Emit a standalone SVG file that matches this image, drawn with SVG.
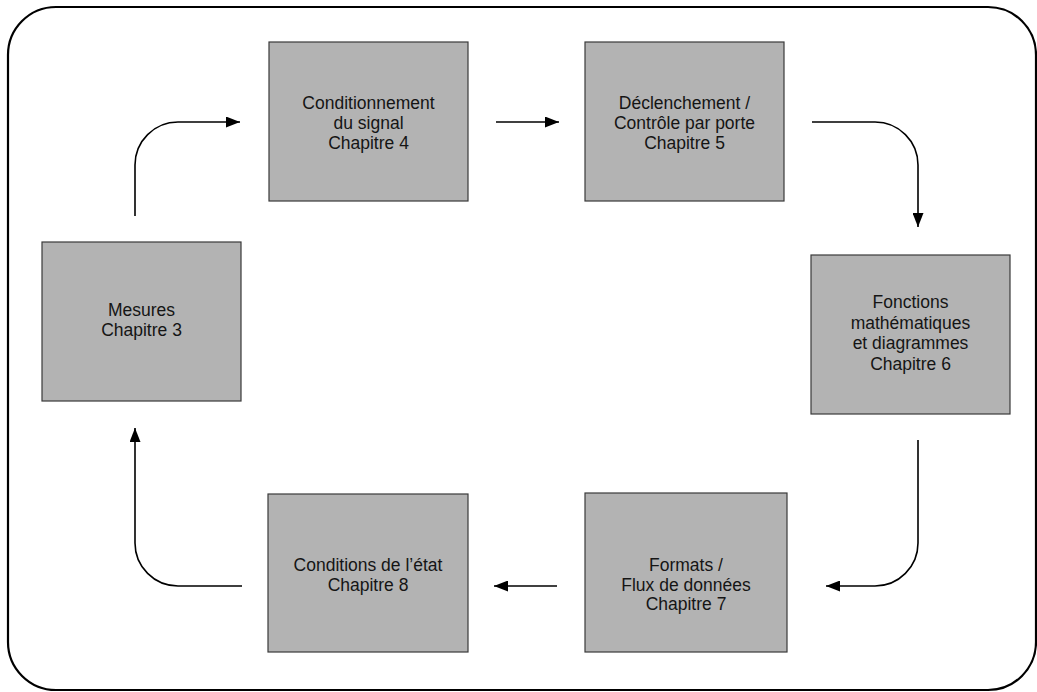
<svg xmlns="http://www.w3.org/2000/svg" width="1037" height="692" viewBox="0 0 1037 692">
  <style>
    .frame { fill: #ffffff; stroke: #000000; stroke-width: 2.2; }
    .box { fill: #b3b3b3; stroke: #3a3a3a; stroke-width: 1.2; }
    .label { font-family: "Liberation Sans", Arial, sans-serif; font-size: 17.5px; fill: #151515; text-anchor: middle; }
    .link { fill: none; stroke: #000000; stroke-width: 1.6; }
  </style>
  <defs>
    <marker id="arrow" viewBox="0 0 14 11" refX="14" refY="5.5" markerWidth="14" markerHeight="11" markerUnits="userSpaceOnUse" orient="auto">
      <path d="M0,0 L14,5.5 L0,11 Z" fill="#000000"/>
    </marker>
  </defs>

  <rect width="1037" height="692" fill="#ffffff"/>
  <!-- outer rounded frame -->
  <rect class="frame" x="8" y="7" width="1028" height="683" rx="48" ry="48"/>

  <!-- workflow steps -->
  <g id="node-conditionnement">
    <rect class="box" x="269" y="42" width="199" height="159"/>
    <text class="label" x="368.5" y="109">Conditionnement</text>
    <text class="label" x="368.5" y="129">du signal</text>
    <text class="label" x="368.5" y="149">Chapitre 4</text>
  </g>
  <g id="node-declenchement">
    <rect class="box" x="585" y="42" width="199" height="159"/>
    <text class="label" x="684.5" y="109">Déclenchement /</text>
    <text class="label" x="684.5" y="129">Contrôle par porte</text>
    <text class="label" x="684.5" y="149">Chapitre 5</text>
  </g>
  <g id="node-fonctions">
    <rect class="box" x="811" y="255" width="199" height="159"/>
    <text class="label" x="910.5" y="308">Fonctions</text>
    <text class="label" x="910.5" y="328.5">mathématiques</text>
    <text class="label" x="910.5" y="349">et diagrammes</text>
    <text class="label" x="910.5" y="369.5">Chapitre 6</text>
  </g>
  <g id="node-formats">
    <rect class="box" x="585" y="493" width="202" height="159"/>
    <text class="label" x="686" y="571">Formats /</text>
    <text class="label" x="686" y="591">Flux de données</text>
    <text class="label" x="686" y="610">Chapitre 7</text>
  </g>
  <g id="node-conditions">
    <rect class="box" x="268" y="494" width="200" height="158"/>
    <text class="label" x="368" y="571">Conditions de l’état</text>
    <text class="label" x="368" y="591">Chapitre 8</text>
  </g>
  <g id="node-mesures">
    <rect class="box" x="42" y="242" width="199" height="159"/>
    <text class="label" x="141.5" y="316">Mesures</text>
    <text class="label" x="141.5" y="336">Chapitre 3</text>
  </g>

  <!-- connectors -->
  <g id="connectors">
    <path class="link" marker-end="url(#arrow)" d="M135,216 V165 A43,43 0 0 1 178,122 H240"/>
    <path class="link" marker-end="url(#arrow)" d="M496,122 H559"/>
    <path class="link" marker-end="url(#arrow)" d="M812,122 H875 A43,43 0 0 1 918,165 V227"/>
    <path class="link" marker-end="url(#arrow)" d="M918,440 V543 A43,43 0 0 1 875,586 H826"/>
    <path class="link" marker-end="url(#arrow)" d="M557,586 H494"/>
    <path class="link" marker-end="url(#arrow)" d="M242,586 H178 A43,43 0 0 1 135,543 V428"/>
  </g>
</svg>
